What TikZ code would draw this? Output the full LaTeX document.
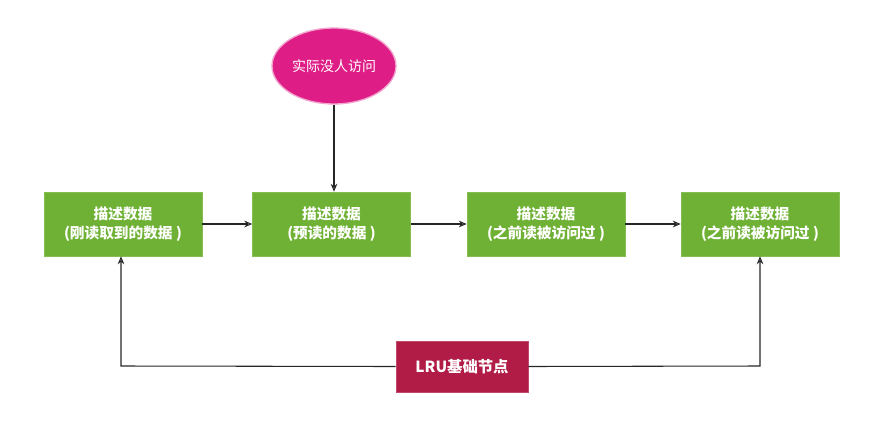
\documentclass[tikz,border=0pt]{standalone}
\usepackage{fontspec}
\setmainfont{Noto Sans CJK SC}
\usetikzlibrary{arrows.meta,shapes.geometric}
\definecolor{boxgreen}{RGB}{110,177,52}
\definecolor{pinkc}{RGB}{222,30,134}
\definecolor{lrured}{RGB}{176,28,70}
\tikzset{
  databox/.style={fill=boxgreen, draw=boxgreen!85!white, minimum width=158*0.75pt, minimum height=64*0.75pt, inner sep=0pt, text=white, font=\bfseries\fontsize{11}{14}\selectfont, align=center},
  conn/.style={draw=black!85, line width=0.8pt, -{Stealth[open,length=6pt,width=5pt]}}
}
\begin{document}
\begin{tikzpicture}[x=0.75pt,y=-0.75pt]
\useasboundingbox (0,0) rectangle (892,447);
\node[ellipse, fill=pinkc, draw=pinkc!40!white, line width=1pt, inner sep=0pt, minimum width=124*0.75pt, minimum height=76*0.75pt, text=white, font=\fontsize{10.5}{12}\selectfont] (top) at (334,66) {实际没人访问};
\node[databox] (b1) at (123,224) {描述数据\\(刚读取到的数据 )};
\node[databox] (b2) at (331.5,224) {描述数据\\(预读的数据 )};
\node[databox] (b3) at (546,224) {描述数据\\(之前读被访问过 )};
\node[databox] (b4) at (760,224) {描述数据\\(之前读被访问过 )};
\node[fill=lrured, draw=lrured!80!white, minimum width=132*0.75pt, minimum height=51*0.75pt, inner sep=0pt, text=white, font=\bfseries\fontsize{11.5}{13}\selectfont] (lru) at (462,366.5) {LRU基础节点};
\coordinate (c1) at (121,366);
\coordinate (c4) at (760,366);
\draw[conn] (top.south -| b2.north) ++(2.5,0) -- ([xshift=2.5*0.75pt]b2.north);
\draw[conn] (b1) -- (b2);
\draw[conn] (b2) -- (b3);
\draw[conn] (b3) -- (b4);
\draw[conn] (lru.west) -- (c1) -- (c1 |- b1.south);
\draw[conn] (lru.east) -- (c4) -- (c4 |- b4.south);
\end{tikzpicture}
\end{document}
